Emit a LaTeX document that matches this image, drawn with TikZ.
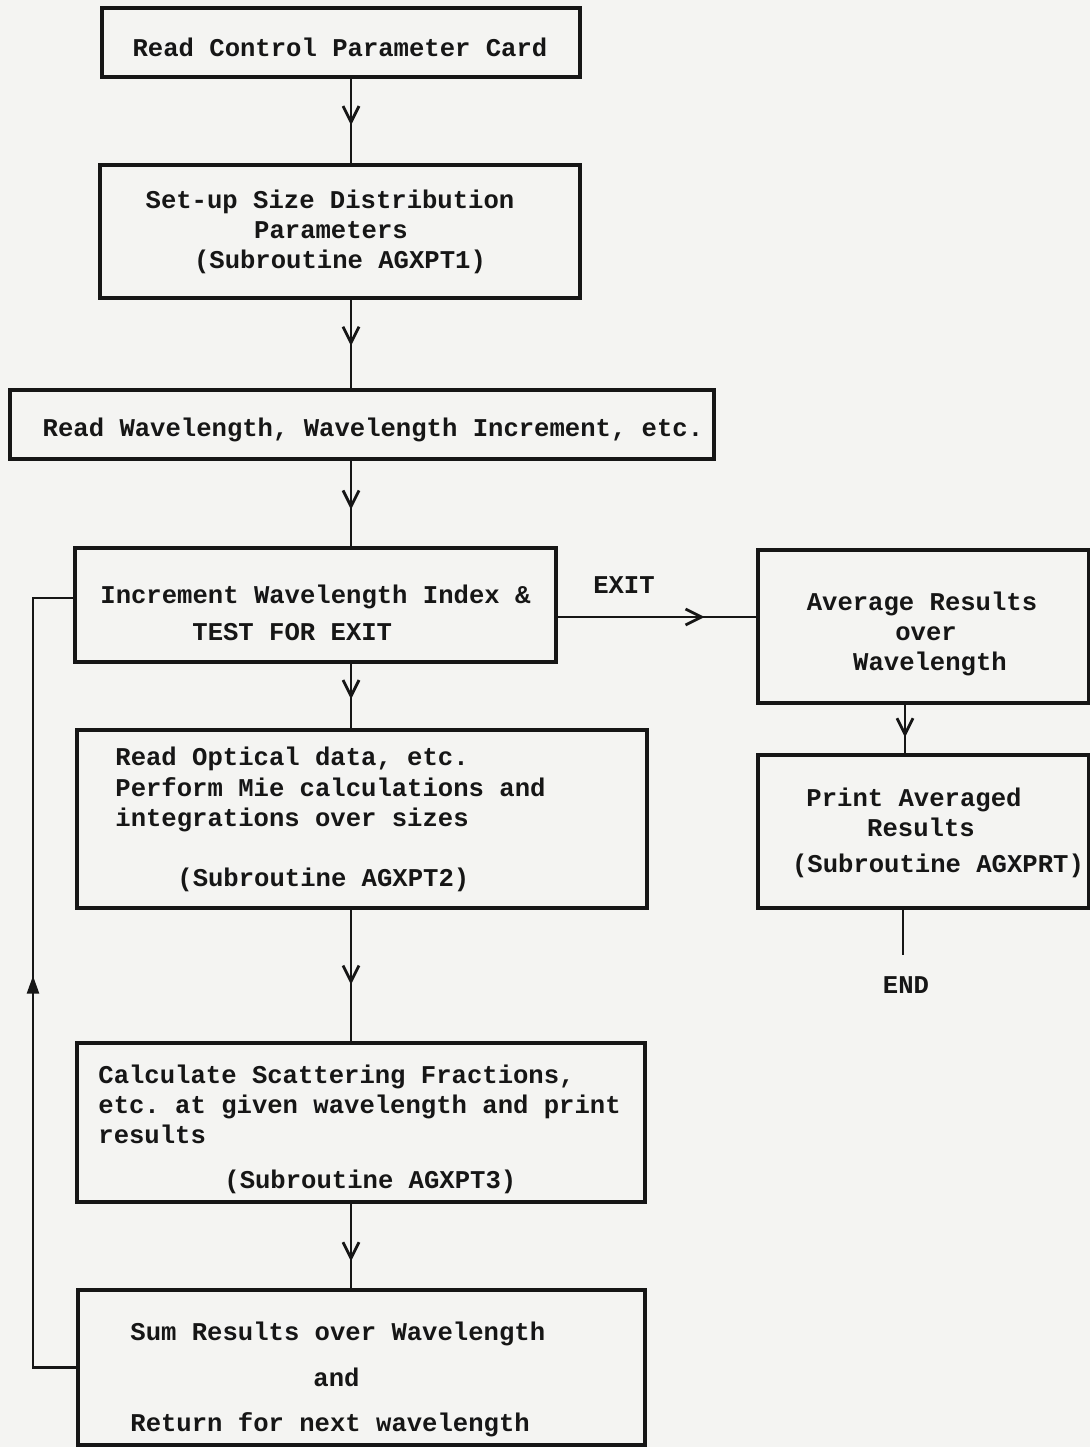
\documentclass[tikz,border=0pt]{standalone}
\usepackage{fontspec}
\setmainfont{Liberation Mono}
\frenchspacing
\usetikzlibrary{arrows.meta,decorations.markings,fit}
\definecolor{paper}{RGB}{244,244,242}
\definecolor{ink}{RGB}{22,22,22}
\tikzset{
  box/.style={draw=ink, line width=1.6pt, inner sep=0pt, rectangle},
  txt/.style={anchor=mid west, inner sep=0pt, text=ink, yshift=-1.5pt,
              font=\fontsize{12.8}{15}\selectfont\bfseries},
  ctxt/.style={txt, anchor=mid},
  link/.style={draw=ink, line width=1.3pt},
  midarrow/.style={postaction={decorate}, decoration={markings,
      mark=at position #1 with {\arrow[ink]{Straight Barb[length=8pt,width=8pt,line width=1.4pt]}}}},
  looparrow/.style={postaction={decorate}, decoration={markings,
      mark=at position #1 with {\arrow[ink]{Triangle[length=9pt,width=6pt]}}}}
}
\begin{document}
\begin{tikzpicture}[x=0.5pt, y=-0.5pt]
  % page
  \fill[paper] (0,0) rectangle (1090,1447);
  \useasboundingbox (0,0) rectangle (1090,1447);

  % guide coordinates for the connector lines
  \coordinate (spine)  at (351,0);
  \coordinate (rspine) at (905,0);
  \coordinate (exity)  at (0,617);
  \coordinate (loopx)  at (33,0);
  \coordinate (loopy)  at (0,598);

  % boxes
  \node (b1) [box, fit={(102,8)(580,77)}] {};
  \node (b2) [box, fit={(100,165)(580,298)}] {};
  \node (b3) [box, fit={(10,390)(714,459)}] {};
  \node (b4) [box, fit={(75,548)(556,662)}] {};
  \node (b5) [box, fit={(758,550)(1089,703)}] {};
  \node (b6) [box, fit={(758,755)(1089,908)}] {};
  \node (b7) [box, fit={(77,730)(647,908)}] {};
  \node (b8) [box, fit={(77,1043)(645,1202)}] {};
  \node (b9) [box, fit={(78,1290)(645,1445)}] {};

  % box texts
  \node (t1)  [ctxt] at (340,48)  {Read Control Parameter Card};
  \node (t2a) [ctxt] at (330,200) {Set-up Size Distribution};
  \node (t2b) [ctxt] at (331,230) {Parameters};
  \node (t2c) [ctxt] at (340,260) {(Subroutine AGXPT1)};
  \node (t3)  [ctxt] at (373,428) {Read Wavelength, Wavelength Increment, etc.};
  \node (t4a) [txt]  at (100,595) {Increment Wavelength Index \&};
  \node (t4b) [txt]  at (192,632) {TEST FOR EXIT};
  \node (t5a) [ctxt] at (922,602) {Average Results};
  \node (t5b) [ctxt] at (926,632) {over};
  \node (t5c) [ctxt] at (930,662) {Wavelength};
  \node (t6a) [ctxt] at (914,798) {Print Averaged};
  \node (t6b) [ctxt] at (921,828) {Results};
  \node (t6c) [ctxt] at (938,864) {(Subroutine AGXPRT)};
  \node (t7a) [txt]  at (115,757) {Read Optical data, etc.};
  \node (t7b) [txt]  at (115,788) {Perform Mie calculations and};
  \node (t7c) [txt]  at (115,818) {integrations over sizes};
  \node (t7d) [txt]  at (177,878) {(Subroutine AGXPT2)};
  \node (t8a) [txt]  at (98,1075) {Calculate Scattering Fractions,};
  \node (t8b) [txt]  at (98,1105) {etc. at given wavelength and print};
  \node (t8c) [txt]  at (98,1135) {results};
  \node (t8d) [txt]  at (224,1180) {(Subroutine AGXPT3)};
  \node (t9a) [txt]  at (130,1332) {Sum Results over Wavelength};
  \node (t9b) [txt]  at (313,1378) {and};
  \node (t9c) [txt]  at (130,1423) {Return for next wavelength};

  % free labels
  \node (exit) [ctxt] at (624,585) {EXIT};
  \node (end)  [ctxt] at (906,985) {END};
  \coordinate (endtop) at (903,955);

  % main column
  \draw[link, midarrow=0.55] (b1.south -| spine) -- (b2.north -| spine);
  \draw[link, midarrow=0.52] (b2.south -| spine) -- (b3.north -| spine);
  \draw[link, midarrow=0.57] (b3.south -| spine) -- (b4.north -| spine);
  \draw[link, midarrow=0.55] (b4.south -| spine) -- (b7.north -| spine);
  \draw[link, midarrow=0.57] (b7.south -| spine) -- (b8.north -| spine);
  \draw[link, midarrow=0.68] (b8.south -| spine) -- (b9.north -| spine);

  % exit branch
  \draw[link, midarrow=0.74] (b4.east |- exity) -- (b5.west |- exity);
  \draw[link, midarrow=0.67] (b5.south -| rspine) -- (b6.north -| rspine);
  \draw[link] (b6.south -| endtop) -- (endtop);

  % return loop
  \draw[link, looparrow=0.51] (b9.west) -- (b9.west -| loopx)
        -- (loopx |- loopy) -- (b4.west |- loopy);
\end{tikzpicture}
\end{document}
